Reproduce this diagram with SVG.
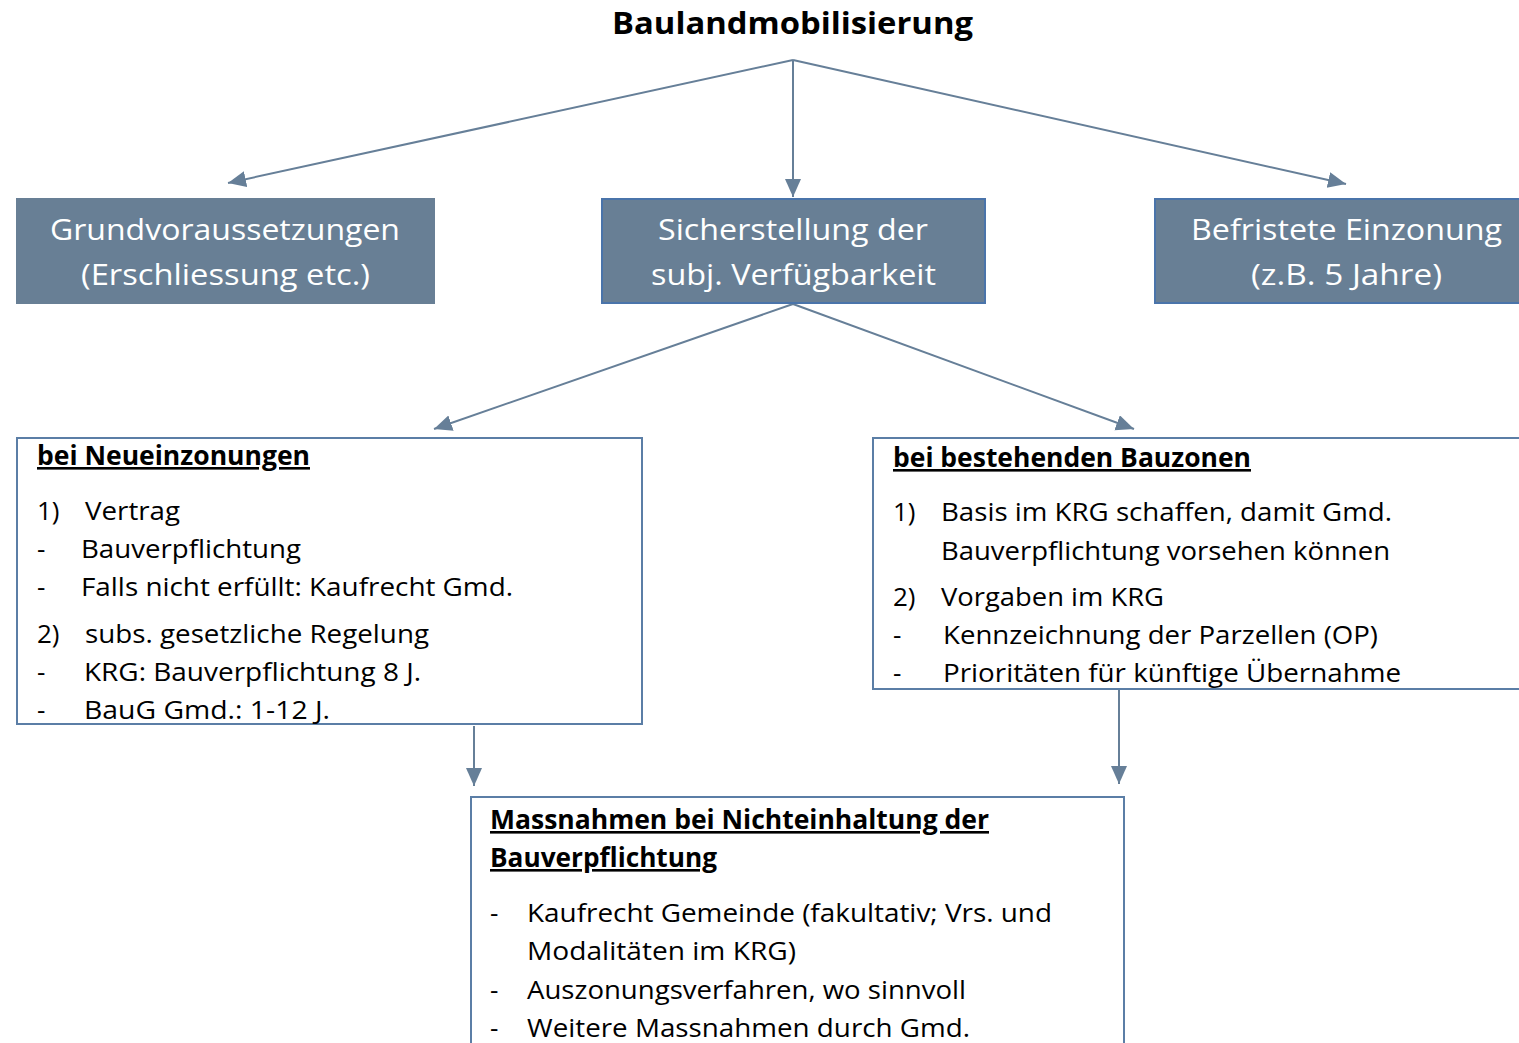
<svg xmlns="http://www.w3.org/2000/svg" width="1519" height="1043" viewBox="0 0 1519 1043">
<style>
.t{font-family:"Open Sans","Noto Sans","Liberation Sans",sans-serif;}
.title{font-size:30px;font-weight:bold;fill:#000;}
.big{font-size:29px;fill:#fff;}
.body{font-size:26px;fill:#000;}
.hd{font-size:26px;font-weight:bold;fill:#000;text-decoration:underline;}
.fill{fill:#687f95;}
.fillb{fill:#687f95;stroke:#4a74aa;stroke-width:2;}
.box{fill:#fff;stroke:#5b7ea6;stroke-width:2;}
.con{stroke:#667f98;stroke-width:2;fill:none;marker-end:url(#ah);}
</style>
<defs>
<marker id="ah" markerUnits="userSpaceOnUse" markerWidth="22" markerHeight="18" refX="18" refY="8" orient="auto">
<path d="M0,0 L18,8 L0,16 Z" fill="#667f98"/>
</marker>
</defs>
<rect width="1519" height="1043" fill="#fff"/>
<text class="t title" x="612" y="34" textLength="361" lengthAdjust="spacingAndGlyphs">Baulandmobilisierung</text>
<g id="connectors">
<line class="con" x1="793" y1="60" x2="228" y2="183"/>
<line class="con" x1="793" y1="60" x2="793" y2="197"/>
<line class="con" x1="793" y1="60" x2="1346" y2="184"/>
<line class="con" x1="793" y1="304" x2="434" y2="429"/>
<line class="con" x1="793" y1="304" x2="1134" y2="429"/>
<line class="con" x1="474" y1="726" x2="474" y2="786"/>
<line class="con" x1="1119" y1="690" x2="1119" y2="784"/>
</g>
<g id="grund">
<rect class="fill" x="16" y="198" width="419" height="106"/>
<text class="t big" x="50" y="240" textLength="350" lengthAdjust="spacingAndGlyphs">Grundvoraussetzungen</text>
<text class="t big" x="81" y="285" textLength="289" lengthAdjust="spacingAndGlyphs">(Erschliessung etc.)</text>
</g>
<g id="sicher">
<rect class="fillb" x="602" y="199" width="383" height="104"/>
<text class="t big" x="658" y="240" textLength="270" lengthAdjust="spacingAndGlyphs">Sicherstellung der</text>
<text class="t big" x="651" y="285" textLength="285" lengthAdjust="spacingAndGlyphs">subj. Verfügbarkeit</text>
</g>
<g id="befristet">
<rect class="fillb" x="1155" y="199" width="380" height="104"/>
<text class="t big" x="1191" y="240" textLength="311" lengthAdjust="spacingAndGlyphs">Befristete Einzonung</text>
<text class="t big" x="1251" y="285" textLength="191" lengthAdjust="spacingAndGlyphs">(z.B. 5 Jahre)</text>
</g>
<g id="neu">
<rect class="box" x="17" y="438" width="625" height="286"/>
<text class="t hd" x="37" y="465" textLength="273" lengthAdjust="spacingAndGlyphs">bei Neueinzonungen</text>
<text class="t body" x="37" y="520">1)</text>
<text class="t body" x="85" y="520" textLength="95" lengthAdjust="spacingAndGlyphs">Vertrag</text>
<text class="t body" x="37" y="558">-</text>
<text class="t body" x="81" y="558" textLength="220" lengthAdjust="spacingAndGlyphs">Bauverpflichtung</text>
<text class="t body" x="37" y="596">-</text>
<text class="t body" x="81" y="596" textLength="432" lengthAdjust="spacingAndGlyphs">Falls nicht erfüllt: Kaufrecht Gmd.</text>
<text class="t body" x="37" y="643">2)</text>
<text class="t body" x="85" y="643" textLength="344" lengthAdjust="spacingAndGlyphs">subs. gesetzliche Regelung</text>
<text class="t body" x="37" y="681">-</text>
<text class="t body" x="84" y="681" textLength="337" lengthAdjust="spacingAndGlyphs">KRG: Bauverpflichtung 8 J.</text>
<text class="t body" x="37" y="719">-</text>
<text class="t body" x="84" y="719" textLength="246" lengthAdjust="spacingAndGlyphs">BauG Gmd.: 1-12 J.</text>
</g>
<g id="bestehend">
<rect class="box" x="873" y="438" width="660" height="251"/>
<text class="t hd" x="893" y="467" textLength="358" lengthAdjust="spacingAndGlyphs">bei bestehenden Bauzonen</text>
<text class="t body" x="893" y="521">1)</text>
<text class="t body" x="941" y="521" textLength="451" lengthAdjust="spacingAndGlyphs">Basis im KRG schaffen, damit Gmd.</text>
<text class="t body" x="941" y="560" textLength="449" lengthAdjust="spacingAndGlyphs">Bauverpflichtung vorsehen können</text>
<text class="t body" x="893" y="606">2)</text>
<text class="t body" x="941" y="606" textLength="223" lengthAdjust="spacingAndGlyphs">Vorgaben im KRG</text>
<text class="t body" x="893" y="644">-</text>
<text class="t body" x="943" y="644" textLength="435" lengthAdjust="spacingAndGlyphs">Kennzeichnung der Parzellen (OP)</text>
<text class="t body" x="893" y="682">-</text>
<text class="t body" x="943" y="682" textLength="458" lengthAdjust="spacingAndGlyphs">Prioritäten für künftige Übernahme</text>
</g>
<g id="massnahmen">
<rect class="box" x="471" y="797" width="653" height="260"/>
<text class="t hd" x="490" y="829" textLength="499" lengthAdjust="spacingAndGlyphs">Massnahmen bei Nichteinhaltung der</text>
<text class="t hd" x="490" y="867" textLength="227" lengthAdjust="spacingAndGlyphs">Bauverpflichtung</text>
<text class="t body" x="490" y="922">-</text>
<text class="t body" x="527" y="922" textLength="525" lengthAdjust="spacingAndGlyphs">Kaufrecht Gemeinde (fakultativ; Vrs. und</text>
<text class="t body" x="527" y="960" textLength="269" lengthAdjust="spacingAndGlyphs">Modalitäten im KRG)</text>
<text class="t body" x="490" y="999">-</text>
<text class="t body" x="527" y="999" textLength="439" lengthAdjust="spacingAndGlyphs">Auszonungsverfahren, wo sinnvoll</text>
<text class="t body" x="490" y="1037">-</text>
<text class="t body" x="527" y="1037" textLength="443" lengthAdjust="spacingAndGlyphs">Weitere Massnahmen durch Gmd.</text>
</g>
</svg>
